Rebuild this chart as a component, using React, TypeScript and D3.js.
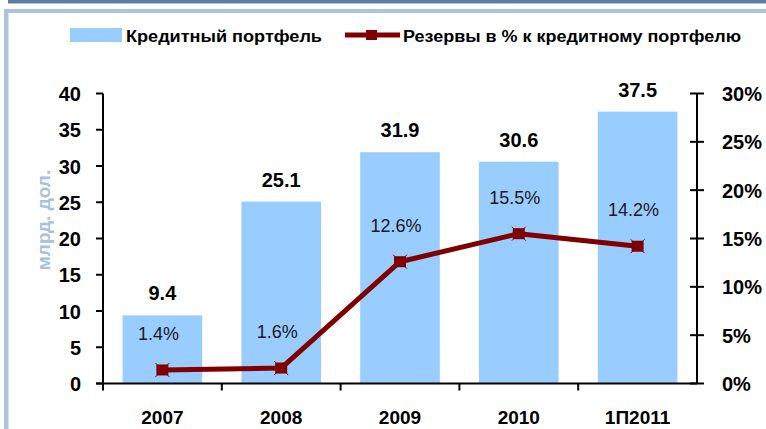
import React from "react";
import * as d3 from "d3";

const categories = ["2007", "2008", "2009", "2010", "1П2011"];
const portfolio = [9.4, 25.1, 31.9, 30.6, 37.5];
const reserves = [1.4, 1.6, 12.6, 15.5, 14.2];
const leftTicks = [0, 5, 10, 15, 20, 25, 30, 35, 40];
const rightTicks = [0, 5, 10, 15, 20, 25, 30];
const legendLabels = ["Кредитный портфель", "Резервы в % к кредитному портфелю"];
const yTitle = "млрд. дол.";

const W = 766;
const H = 429;
const BAR = "#99ccff";
const LINE = "#800000";
const FONT = "'Liberation Sans', Arial, sans-serif";

export default function App() {
  const x = d3.scaleBand<string>().domain(categories).range([103, 697]).paddingInner(0.33).paddingOuter(0.165);
  const xb = d3.scaleBand<string>().domain(categories).range([103, 697]);
  const yL = d3.scaleLinear().domain([0, 40]).range([383.5, 93.5]);
  const yR = d3.scaleLinear().domain([0, 30]).range([383.5, 93.5]);
  const cx = (c: string) => (xb(c) as number) + xb.bandwidth() / 2;
  const line = d3
    .line<number>()
    .x((_, i) => cx(categories[i]))
    .y((d) => yR(d));

  return (
    <svg width={W} height={H} style={{ position: "absolute", left: 0, top: 0, background: "#fff" }} fontFamily={FONT}>
      {/* frame */}
      <rect x={8} y={0} width={W - 8} height={3.5} fill="#5a7ea6" />
      <rect x={4} y={9} width={W - 4} height={4} fill="#adc3dc" />
      <rect x={4} y={9} width={4.5} height={H - 9} fill="#adc3dc" />

      {/* legend */}
      <rect x={70} y={28} width={52} height={14} fill={BAR} />
      <text x={126} y={42} fontSize={16} fontWeight="bold" textLength={196} lengthAdjust="spacingAndGlyphs">
        {legendLabels[0]}
      </text>
      <line x1={345} x2={400} y1={35} y2={35} stroke={LINE} strokeWidth={5} />
      <rect x={366} y={30} width={11} height={10} fill={LINE} />
      <text x={403} y={42} fontSize={16} fontWeight="bold" textLength={338} lengthAdjust="spacingAndGlyphs">
        {legendLabels[1]}
      </text>

      {/* bars */}
      {portfolio.map((v, i) => (
        <rect key={"b" + i} x={x(categories[i])} y={yL(v)} width={x.bandwidth()} height={yL(0) - yL(v)} fill={BAR} />
      ))}
      {portfolio.map((v, i) => (
        <text
          key={"bl" + i}
          x={cx(categories[i])}
          y={yL(v) - 15}
          textAnchor="middle"
          fontSize={20}
          fontWeight="bold"
          fill="#000"
        >
          {v.toFixed(1)}
        </text>
      ))}

      {/* left axis */}
      <line x1={103} x2={103} y1={yL(40)} y2={yL(0)} stroke="#000" strokeWidth={2} />
      {leftTicks.map((t) => (
        <g key={"lt" + t}>
          <line x1={96} x2={103} y1={yL(t)} y2={yL(t)} stroke="#000" strokeWidth={2} />
          <text x={81} y={yL(t) + 7.5} textAnchor="end" fontSize={20} fontWeight="bold">
            {t}
          </text>
        </g>
      ))}
      <text
        transform={`translate(${50},${220}) rotate(-90)`}
        textAnchor="middle"
        fontSize={19}
        fontWeight="bold"
        fill="#a9c0dc"
      >
        {yTitle}
      </text>

      {/* right axis */}
      <line x1={697} x2={697} y1={yR(30)} y2={yR(0)} stroke="#000" strokeWidth={2} />
      {rightTicks.map((t) => (
        <g key={"rt" + t}>
          <line x1={690} x2={704} y1={yR(t)} y2={yR(t)} stroke="#000" strokeWidth={2} />
          <text x={722} y={yR(t) + 7.5} textAnchor="start" fontSize={20} fontWeight="bold">
            {t + "%"}
          </text>
        </g>
      ))}

      {/* x axis */}
      <line x1={96} x2={697} y1={yL(0)} y2={yL(0)} stroke="#000" strokeWidth={2} />
      {categories.map((c, i) => (
        <line key={"xt" + i} x1={xb(c)} x2={xb(c)} y1={yL(0)} y2={yL(0) + 7} stroke="#000" strokeWidth={2} />
      ))}
      {categories.map((c) => (
        <text key={"xl" + c} x={cx(c)} y={424} textAnchor="middle" fontSize={19} fontWeight="bold">
          {c}
        </text>
      ))}

      {/* line series */}
      <path d={line(reserves) || ""} fill="none" stroke={LINE} strokeWidth={5} strokeLinejoin="round" />
      {reserves.map((v, i) => (
        <g key={"m" + i}>
          <rect x={cx(categories[i]) - 6} y={yR(v) - 5.5} width={12} height={11} fill={LINE} />
          <path
            d={`M${cx(categories[i]) - 7},${yR(v) - 7}L${cx(categories[i]) + 7},${yR(v) + 7}M${cx(categories[i]) - 7},${yR(v) + 7}L${cx(categories[i]) + 7},${yR(v) - 7}`}
            stroke={LINE}
            strokeWidth={1}
          />
        </g>
      ))}
      {reserves.map((v, i) => (
        <text
          key={"pl" + i}
          x={cx(categories[i]) - 4}
          y={yR(v) - 30}
          textAnchor="middle"
          fontSize={18}
          fill="#1a1a1a"
        >
          {v.toFixed(1) + "%"}
        </text>
      ))}
    </svg>
  );
}
